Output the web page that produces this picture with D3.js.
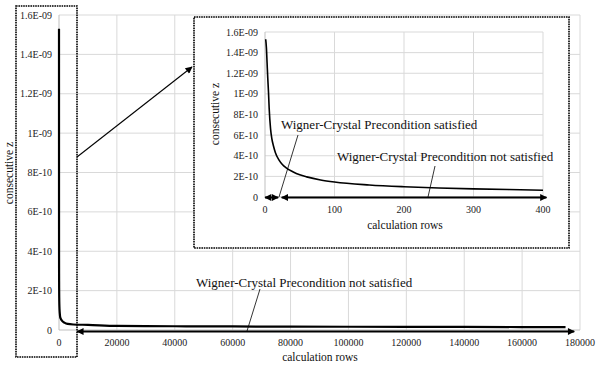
<!DOCTYPE html>
<html>
<head>
<meta charset="utf-8">
<title>consecutive z vs calculation rows</title>
<script src="https://d3js.org/d3.v7.min.js"></script>
<style>
    body { margin: 0; background: #fff; }
    text { font-family: 'Liberation Serif', 'Times New Roman', 'DejaVu Serif', serif; }
    .grid line { stroke: #d9d9d9; stroke-width: 1; }
    .tick-label { font-size: 10px; fill: #222; }
    .axis-title { font-size: 11.5px; fill: #111; }
    .note { font-size: 13px; fill: #111; }
</style>
</head>
<body>
<svg id="chart" width="600" height="368"></svg>
<script>
// calculation rows and consecutive z
const rows = [1, 2, 3, 4, 5, 6, 8, 10, 12, 15, 20, 25, 30, 40, 50, 60, 80, 100, 150, 200,
    250, 300, 350, 400, 700, 1000, 2000, 3000, 5000, 10000, 20000, 40000, 60000,
    80000, 100000, 120000, 140000, 160000, 175000];
const zValues = [1.53e-9, 1.45e-9, 1.30e-9, 1.15e-9, 1.02e-9, 8.6e-10, 6.6e-10, 5.6e-10, 5.0e-10, 4.3e-10,
    3.6e-10, 3.15e-10, 2.85e-10, 2.45e-10, 2.15e-10, 1.95e-10, 1.65e-10, 1.45e-10, 1.17e-10, 1.0e-10,
    8.8e-11, 7.9e-11, 7.2e-11, 6.6e-11, 5.5e-11, 4.8e-11, 3.6e-11, 3.1e-11, 2.8e-11, 2.6e-11,
    2.1e-11, 1.9e-11, 1.8e-11, 1.7e-11, 1.65e-11, 1.6e-11, 1.55e-11, 1.5e-11, 1.5e-11];

const mainXTicks = [0, 20000, 40000, 60000, 80000, 100000, 120000, 140000, 160000, 180000];
const insetXTicks = [0, 100, 200, 300, 400];
const yTicks = [0, 2e-10, 4e-10, 6e-10, 8e-10, 1e-9, 1.2e-9, 1.4e-9, 1.6e-9];
const yTickLabels = ["0", "2E-10", "4E-10", "6E-10", "8E-10", "1E-09", "1.2E-09", "1.4E-09", "1.6E-09"];

// row ranges of the arrows
const mainNotSatisfied = [6300, 178000];
const insetSatisfied = [0, 19];
const insetNotSatisfied = [24, 405];

const labelSatisfied = "Wigner-Crystal Precondition satisfied";
const labelNotSatisfied = "Wigner-Crystal Precondition not satisfied";

const points = rows.map((r, i) => ({ r: r, z: zValues[i] }));

const svg = d3.select("#chart");

// arrow head
const defs = svg.append("defs");
defs.append("marker")
    .attr("id", "head")
    .attr("viewBox", "0 0 10 10")
    .attr("refX", 9).attr("refY", 5)
    .attr("markerUnits", "userSpaceOnUse")
    .attr("markerWidth", 9).attr("markerHeight", 7)
    .attr("orient", "auto-start-reverse")
    .append("path").attr("d", "M0,0 L10,5 L0,10 z").attr("fill", "#000");

function drawPanel(g, x, y, xTicks, lineWidth) {
    const [x0, x1] = x.range();
    const [y0, y1] = y.range();
    const grid = g.append("g").attr("class", "grid");
    grid.selectAll(".h").data(yTicks.slice(1)).join("line")
        .attr("x1", x0).attr("x2", x1)
        .attr("y1", d => y(d)).attr("y2", d => y(d));
    grid.selectAll(".v").data(xTicks.slice(1)).join("line")
        .attr("x1", d => x(d)).attr("x2", d => x(d))
        .attr("y1", y0).attr("y2", y1);
    // axis lines
    g.append("line").attr("x1", x0).attr("x2", x0).attr("y1", y0).attr("y2", y1)
        .attr("stroke", "#bfbfbf");
    g.append("line").attr("x1", x0).attr("x2", x1).attr("y1", y0).attr("y2", y0)
        .attr("stroke", "#bfbfbf");

    g.selectAll(".yl").data(yTicks).join("text")
        .attr("class", "tick-label")
        .attr("x", x0 - 7).attr("y", d => y(d) + 3.5)
        .attr("text-anchor", "end")
        .text((d, i) => yTickLabels[i]);
    g.selectAll(".xl").data(xTicks).join("text")
        .attr("class", "tick-label")
        .attr("x", d => x(d)).attr("y", y0 + 16)
        .attr("text-anchor", "middle")
        .text(d => d);

    const line = d3.line().x(d => x(d.r)).y(d => y(d.z)).curve(d3.curveMonotoneX);
    g.append("path")
        .datum(points.filter(p => p.r <= x.domain()[1]))
        .attr("d", line)
        .attr("fill", "none").attr("stroke", "#000").attr("stroke-width", lineWidth);
}

function arrow(g, x, y, range, dy) {
    g.append("line")
        .attr("x1", x(range[0])).attr("x2", x(range[1]))
        .attr("y1", y(0) + dy).attr("y2", y(0) + dy)
        .attr("stroke", "#000").attr("stroke-width", 2)
        .attr("marker-start", "url(#head)").attr("marker-end", "url(#head)");
}

// main chart
const xMain = d3.scaleLinear().domain([0, 180000]).range([59, 580]);
const yMain = d3.scaleLinear().domain([0, 1.6e-9]).range([330, 15]);
const main = svg.append("g");
drawPanel(main, xMain, yMain, mainXTicks, 2.2);
arrow(main, xMain, yMain, mainNotSatisfied, 1.5);

main.append("text").attr("class", "axis-title")
    .attr("x", 320).attr("y", 361).attr("text-anchor", "middle").text("calculation rows");
main.append("text").attr("class", "axis-title")
    .attr("transform", "translate(13,173) rotate(-90)").attr("text-anchor", "middle").text("consecutive z");

main.append("text").attr("class", "note").attr("x", 196).attr("y", 287).text(labelNotSatisfied);
main.append("line").attr("x1", 260).attr("y1", 289).attr("x2", 247).attr("y2", yMain(0) + 1)
    .attr("stroke", "#000").attr("stroke-width", 0.8);

// zoom region box and pointer
svg.append("rect").attr("x", 16).attr("y", 6).attr("width", 61).attr("height", 351)
    .attr("fill", "none").attr("stroke", "#000").attr("stroke-width", 1.6)
    .attr("stroke-dasharray", "1.6,0.8");
svg.append("line").attr("x1", 77).attr("y1", 157).attr("x2", 192).attr("y2", 67)
    .attr("stroke", "#000").attr("stroke-width", 1.1).attr("marker-end", "url(#head)");

// inset
svg.append("rect").attr("x", 194).attr("y", 17).attr("width", 375).attr("height", 231)
    .attr("fill", "#fff").attr("stroke", "#000").attr("stroke-width", 1.6)
    .attr("stroke-dasharray", "1.6,0.8");

const xIn = d3.scaleLinear().domain([0, 400]).range([265, 543]);
const yIn = d3.scaleLinear().domain([0, 1.6e-9]).range([197, 32]);
const inset = svg.append("g");
drawPanel(inset, xIn, yIn, insetXTicks, 1.6);
arrow(inset, xIn, yIn, insetSatisfied, 0.5);
arrow(inset, xIn, yIn, insetNotSatisfied, 0.5);

inset.append("text").attr("class", "axis-title")
    .attr("x", 405).attr("y", 229).attr("text-anchor", "middle").text("calculation rows");
inset.append("text").attr("class", "axis-title")
    .attr("transform", "translate(219,114) rotate(-90)").attr("text-anchor", "middle").text("consecutive z");

inset.append("text").attr("class", "note").attr("x", 281).attr("y", 129).text(labelSatisfied);
inset.append("line").attr("x1", 298).attr("y1", 135).attr("x2", 279).attr("y2", yIn(0))
    .attr("stroke", "#000").attr("stroke-width", 0.8);
inset.append("text").attr("class", "note").attr("x", 337).attr("y", 161).text(labelNotSatisfied);
inset.append("line").attr("x1", 435).attr("y1", 166).attr("x2", 428).attr("y2", yIn(0))
    .attr("stroke", "#000").attr("stroke-width", 0.8);
</script>
</body>
</html>
